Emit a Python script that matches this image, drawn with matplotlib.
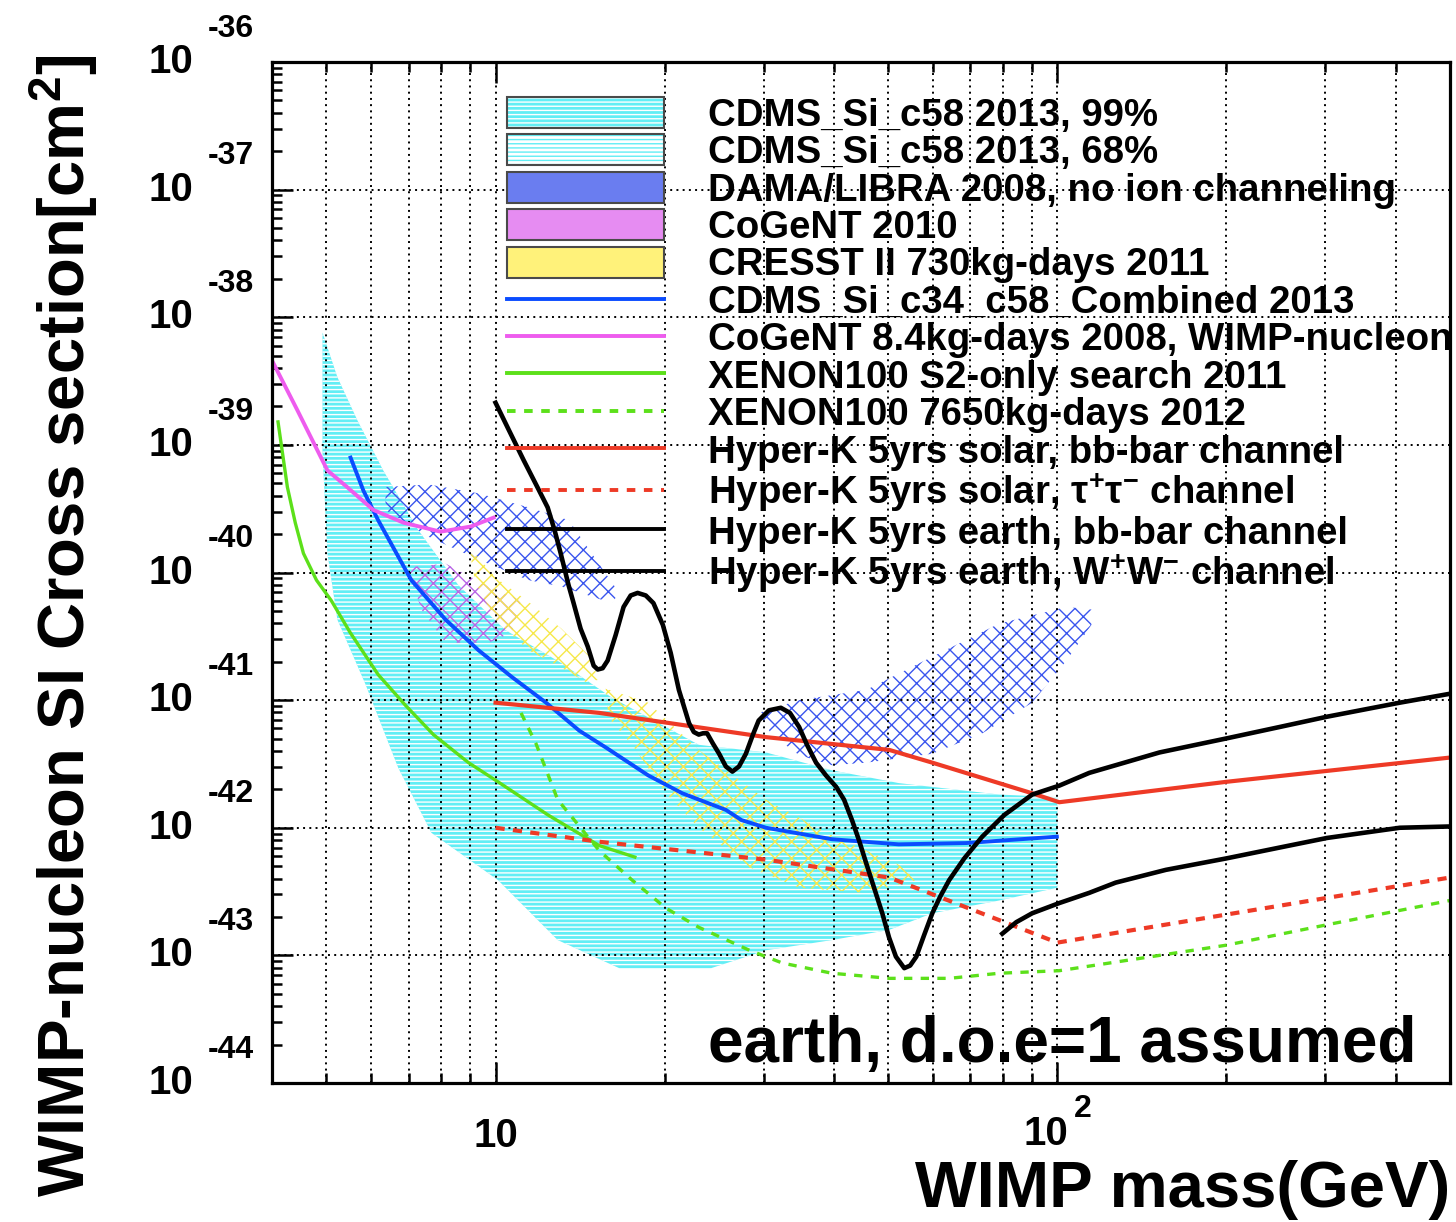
import numpy as np
import matplotlib
matplotlib.use("Agg")
import matplotlib.pyplot as plt
from matplotlib.patches import Patch
from matplotlib.lines import Line2D
from matplotlib.ticker import LogLocator, NullFormatter

plt.rcParams['font.family'] = ['Liberation Sans', 'DejaVu Sans']
plt.rcParams['font.weight'] = 'bold'
plt.rcParams['mathtext.fontset'] = 'custom'
plt.rcParams['mathtext.bf'] = 'Liberation Sans:bold'
plt.rcParams['mathtext.rm'] = 'Liberation Sans:bold'
plt.rcParams['mathtext.default'] = 'bf'
plt.rcParams['hatch.linewidth'] = 1.0

# masses in GeV, cross sections as log10(sigma / cm^2)

# CDMS Si c58 2013, 99% region (upper edge left->right, then lower edge right->left)
cdms99_m = [4.92, 5.23, 5.68, 6.31, 7.29, 8.59, 10.4, 13.1, 16.1, 23.0, 30.3, 39.7, 52.2, 78.8, 100,
            100, 78.8, 59.9, 50.2, 39.7, 30.3, 24.2, 16.6, 12.9, 10.1, 7.69, 6.71, 5.86, 5.23, 5.02, 4.92]
cdms99_s = [-38.12, -38.47, -38.81, -39.20, -39.67, -40.10, -40.45, -40.71, -40.98, -41.35, -41.41, -41.55, -41.65, -41.74, -41.76,
            -42.47, -42.57, -42.67, -42.80, -42.88, -42.96, -43.10, -43.10, -42.88, -42.41, -42.04, -41.53, -40.87, -40.37, -39.85, -39.06]

# DAMA/LIBRA 2008 islands
dama_low_m = [6.37, 7.6, 9.33, 11.45, 13.5, 15.1, 16.6, 16.1, 13.1, 11.45, 9.33, 7.6, 6.37]
dama_low_s = [-39.33, -39.31, -39.38, -39.49, -39.59, -39.90, -40.16, -40.24, -40.11, -40.06, -39.90, -39.72, -39.51]
dama_high_m = [29.4, 34.7, 45.7, 59.9, 78.8, 103.8, 115, 115, 103.8, 90.2, 73.5, 59.9, 45.7, 39.7, 34.7, 31.0]
dama_high_s = [-41.10, -41.00, -40.92, -40.66, -40.40, -40.27, -40.29, -40.41, -40.69, -41.02, -41.26, -41.42, -41.49, -41.51, -41.43, -41.27]

# CoGeNT 2010 region
cogent10_m = [7.0, 8.15, 9.72, 11.1, 10.7, 9.72, 8.15, 7.38, 7.08]
cogent10_s = [-39.96, -39.93, -40.11, -40.22, -40.47, -40.55, -40.55, -40.29, -40.06]

# CRESST II 2011 islands
cresst1_m = [8.95, 10.0, 11.45, 13.1, 14.65, 15.3, 14.5, 12.9, 11.45, 10.0, 9.21]
cresst1_s = [-39.79, -40.04, -40.23, -40.44, -40.65, -40.84, -40.86, -40.73, -40.61, -40.37, -40.08]
cresst2_m = [15.7, 18.7, 23.0, 30.3, 39.7, 52.2, 56.1, 45.7, 34.7, 28.3, 23.0, 20.1, 17.5, 15.9]
cresst2_s = [-40.91, -41.02, -41.39, -41.78, -42.06, -42.29, -42.41, -42.51, -42.47, -42.31, -42.00, -41.73, -41.35, -41.14]

# CDMS Si c34+c58 combined 2013
cdms_comb_m = [5.52, 5.82, 6.18, 7.08, 8.15, 9.33, 10.7, 12.3, 14.1, 15.7, 18.7, 21.5, 25.7, 27.4, 30.3, 39.7, 52.2, 68.8, 99.8]
cdms_comb_s = [-39.10, -39.36, -39.59, -40.06, -40.37, -40.61, -40.82, -41.02, -41.24, -41.37, -41.59, -41.73, -41.86, -41.94, -42.00, -42.09, -42.13, -42.12, -42.07]

# CoGeNT 8.4 kg-days 2008
cogent08_m = [3.97, 4.44, 5.02, 5.44, 6.06, 6.86, 7.98, 9.03, 9.92]
cogent08_s = [-38.31, -38.73, -39.20, -39.33, -39.51, -39.61, -39.68, -39.64, -39.57]

# XENON100 S2-only 2011
xe_s2_m = [4.10, 4.26, 4.40, 4.55, 4.80, 5.10, 5.51, 6.18, 6.91, 7.75, 8.95, 10.1, 12.4, 15.3, 17.7]
xe_s2_s = [-38.82, -39.33, -39.61, -39.85, -40.06, -40.22, -40.47, -40.80, -41.04, -41.27, -41.49, -41.64, -41.90, -42.14, -42.23]

# XENON100 7650 kg-days 2012
xe12_m = [11.1, 11.8, 12.9, 15.3, 17.5, 20.1, 23.0, 28.3, 32.4, 39.7, 50.2, 64.2, 78.8, 100.8, 200, 302, 500]
xe12_s = [-41.10, -41.34, -41.78, -42.18, -42.41, -42.63, -42.78, -42.96, -43.06, -43.14, -43.18, -43.18, -43.14, -43.12, -42.92, -42.76, -42.57]

# Hyper-K 5 yrs solar
hk_sol_bb_m = [10, 15.3, 30.3, 50.2, 59.9, 90.2, 100.8, 200, 500]
hk_sol_bb_s = [-41.02, -41.10, -41.29, -41.39, -41.49, -41.73, -41.80, -41.64, -41.45]
hk_sol_tau_m = [10, 15.3, 30.3, 50.2, 100, 200, 500]
hk_sol_tau_s = [-42.00, -42.11, -42.25, -42.39, -42.90, -42.68, -42.39]

# Hyper-K 5 yrs earth
hk_earth_bb_m = [10.0, 10.55, 11.22, 11.93, 12.38, 12.74, 13.06, 13.49, 13.77, 14.17, 14.59, 14.95, 15.2,
                 15.51, 15.83, 16.36, 16.9, 17.4, 17.9, 18.51, 19.1, 19.85, 20.5, 21.2, 22.1, 22.54, 23.0,
                 23.39, 23.8, 24.37, 25.0, 25.7, 26.4, 27.12, 27.9, 28.72, 29.4, 30.66, 32.2, 33.42, 34.7,
                 35.84, 37.2, 38.74, 40.4, 41.72, 43.1, 44.37, 45.7, 47.18, 48.8, 50.17, 51.6, 53.4, 54.7,
                 56.1, 57.94, 59.9, 61.86, 64.2, 68.29, 73.5, 80.46, 90.2, 100.8, 114, 127, 152, 200, 249,
                 302, 407, 500]
hk_earth_bb_s = [-38.67, -38.88, -39.12, -39.35, -39.49, -39.67, -39.85, -40.10, -40.24, -40.44, -40.58, -40.73, -40.76,
                 -40.75, -40.69, -40.49, -40.27, -40.18, -40.16, -40.18, -40.24, -40.41, -40.63, -40.92, -41.18, -41.25, -41.27,
                 -41.26, -41.26, -41.34, -41.42, -41.52, -41.56, -41.52, -41.42, -41.27, -41.16, -41.08, -41.06, -41.10, -41.21,
                 -41.35, -41.49, -41.59, -41.68, -41.78, -41.94, -42.10, -42.28, -42.47, -42.67, -42.86, -43.01, -43.10, -43.08,
                 -43.01, -42.84, -42.67, -42.54, -42.41, -42.24, -42.07, -41.90, -41.74, -41.67, -41.57, -41.51, -41.41, -41.30, -41.21,
                 -41.13, -41.02, -40.95]
hk_earth_ww_m = [79.8, 84.5, 90.2, 100.8, 114, 127, 156, 200, 252, 302, 407, 500]
hk_earth_ww_s = [-42.83, -42.74, -42.67, -42.59, -42.51, -42.43, -42.33, -42.24, -42.15, -42.08, -42.00, -41.99]

y_exponents = [-36, -37, -38, -39, -40, -41, -42, -43, -44]

labels = ['CDMS_Si_c58 2013, 99%',
          'CDMS_Si_c58 2013, 68%',
          'DAMA/LIBRA 2008, no ion channeling',
          'CoGeNT 2010',
          'CRESST II 730kg-days 2011',
          'CDMS_Si_c34_c58_Combined 2013',
          'CoGeNT 8.4kg-days 2008, WIMP-nucleon',
          'XENON100 S2-only search 2011',
          'XENON100 7650kg-days 2012',
          'Hyper-K 5yrs solar, bb-bar channel',
          r'Hyper-K 5yrs solar, $\tau^{+}\tau^{-}$ channel',
          'Hyper-K 5yrs earth, bb-bar channel',
          r'Hyper-K 5yrs earth, W$^{+}$W$^{-}$ channel']

CYAN = '#62eef5'
DAMA_C = '#3a55ee'
COGENT_C = '#b866e6'
CRESST_C = '#f6e84a'
BLUE = '#0a4cff'
MAGENTA = '#ee5cee'
GREEN = '#5ce01a'
RED = '#ee3a26'


def s(v):
    return 10.0 ** np.array(v)


fig = plt.figure(figsize=(14.56, 12.22), dpi=100)
ax = fig.add_axes([272 / 1456, 1 - 1083 / 1222, 1178 / 1456, 1021 / 1222])
ax.set_xscale('log')
ax.set_yscale('log')
ax.set_xlim(4, 500)
ax.set_ylim(1e-44, 1e-36)

# regions
ax.fill(cdms99_m, s(cdms99_s), facecolor=CYAN, edgecolor='white', hatch='----', lw=0, zorder=1)
ax.fill(dama_low_m, s(dama_low_s), facecolor='none', edgecolor=DAMA_C, hatch='xx', lw=0, zorder=1.1)
ax.fill(dama_high_m, s(dama_high_s), facecolor='none', edgecolor=DAMA_C, hatch='xx', lw=0, zorder=1.1)
ax.fill(cogent10_m, s(cogent10_s), facecolor='none', edgecolor=COGENT_C, hatch='xx', lw=0, zorder=1.2)
ax.fill(cresst1_m, s(cresst1_s), facecolor='none', edgecolor=CRESST_C, hatch='xx', lw=0, zorder=1.2)
ax.fill(cresst2_m, s(cresst2_s), facecolor='none', edgecolor=CRESST_C, hatch='xx', lw=0, zorder=1.2)

# curves
ax.plot(cdms_comb_m, s(cdms_comb_s), color=BLUE, lw=2.8, zorder=2)
ax.plot(cogent08_m, s(cogent08_s), color=MAGENTA, lw=2.8, zorder=2)
ax.plot(xe_s2_m, s(xe_s2_s), color=GREEN, lw=2.4, zorder=2)
ax.plot(xe12_m, s(xe12_s), color=GREEN, lw=2.4, ls=(0, (2.5, 2.5)), zorder=2)
ax.plot(hk_sol_bb_m, s(hk_sol_bb_s), color=RED, lw=3.0, zorder=2.1)
ax.plot(hk_sol_tau_m, s(hk_sol_tau_s), color=RED, lw=3.0, ls=(0, (2.2, 2.0)), zorder=2.1)
ax.plot(hk_earth_bb_m, s(hk_earth_bb_s), color='black', lw=3.3, zorder=3, solid_joinstyle='round')
ax.plot(hk_earth_ww_m, s(hk_earth_ww_s), color='black', lw=3.3, zorder=3, solid_joinstyle='round')

# axes, ticks and grid
for sp in ax.spines.values():
    sp.set_linewidth(2.3)
ax.xaxis.set_major_locator(LogLocator(base=10, numticks=10))
ax.xaxis.set_minor_locator(LogLocator(base=10, subs=np.arange(2, 10), numticks=30))
ax.yaxis.set_major_locator(LogLocator(base=10, numticks=20))
ax.yaxis.set_minor_locator(LogLocator(base=10, subs=np.arange(2, 10), numticks=30))
for a in (ax.xaxis, ax.yaxis):
    a.set_major_formatter(NullFormatter())
    a.set_minor_formatter(NullFormatter())
ax.tick_params(which='both', direction='in', top=True, right=False, width=1.8)
ax.tick_params(which='major', length=15)
ax.tick_params(which='minor', length=7)
ax.grid(True, axis='x', which='both', color='black', ls=(0, (1, 2.2)), lw=1.4)
ax.grid(True, axis='y', which='major', color='black', ls=(0, (1, 2.2)), lw=1.4)

# tick labels in ROOT style
for e in y_exponents:
    ax.annotate('10', xy=(0, 10.0 ** e), xycoords=('axes fraction', 'data'),
                xytext=(-57, 0), textcoords='offset points', ha='right', va='center', fontsize=29)
    ax.annotate(f'{e}', xy=(0, 10.0 ** e), xycoords=('axes fraction', 'data'),
                xytext=(-46, 24), textcoords='offset points', ha='left', va='center', fontsize=23)
ax.annotate('10', xy=(10, 0), xycoords=('data', 'axes fraction'),
            xytext=(0, -38), textcoords='offset points', ha='center', va='center', fontsize=29)
ax.annotate('10', xy=(100, 0), xycoords=('data', 'axes fraction'),
            xytext=(-8, -37), textcoords='offset points', ha='center', va='center', fontsize=29)
ax.annotate('2', xy=(100, 0), xycoords=('data', 'axes fraction'),
            xytext=(18, -19), textcoords='offset points', ha='center', va='center', fontsize=23)

fig.text(1450 / 1456, 1 - 1207 / 1222, 'WIMP mass(GeV)', ha='right', va='baseline', fontsize=47)
fig.text(64 / 1456, 1 - 1197 / 1222, r'WIMP-nucleon SI Cross section[cm$^{2}$]',
         rotation=90, ha='center', va='bottom', fontsize=47)
ax.text(0.370, 0.021, 'earth, d.o.e=1 assumed', transform=ax.transAxes,
        ha='left', va='baseline', fontsize=46, zorder=5)

# legend
frame = dict(facecolor='none', edgecolor='#4a4a4a', lw=1.5)
handles = [
    (Patch(facecolor=CYAN, edgecolor='white', hatch='----', lw=0), Patch(**frame)),
    (Patch(facecolor='white', edgecolor=CYAN, hatch='----', lw=0), Patch(**frame)),
    (Patch(facecolor='#6a7df0', edgecolor='none'), Patch(**frame)),
    (Patch(facecolor='#e68cf2', edgecolor='none'), Patch(**frame)),
    (Patch(facecolor='#fff27a', edgecolor='none'), Patch(**frame)),
    Line2D([], [], color=BLUE, lw=2.8),
    Line2D([], [], color=MAGENTA, lw=2.8),
    Line2D([], [], color=GREEN, lw=2.8),
    Line2D([], [], color=GREEN, lw=2.8, ls=(0, (2.2, 2.2))),
    Line2D([], [], color=RED, lw=2.8),
    Line2D([], [], color=RED, lw=2.8, ls=(0, (2.2, 2.2))),
    Line2D([], [], color='black', lw=2.8),
    Line2D([], [], color='black', lw=2.8),
]
leg = ax.legend(handles, labels, loc='upper left', bbox_to_anchor=(507 / 1456, 1 - 97 / 1222),
                bbox_transform=fig.transFigure, frameon=False, fontsize=27.6,
                handlelength=4.1, handleheight=0.86, handletextpad=1.15,
                labelspacing=0.02, borderpad=0, borderaxespad=0)
leg.set_zorder(4)

fig.savefig('out.png', dpi=100)
